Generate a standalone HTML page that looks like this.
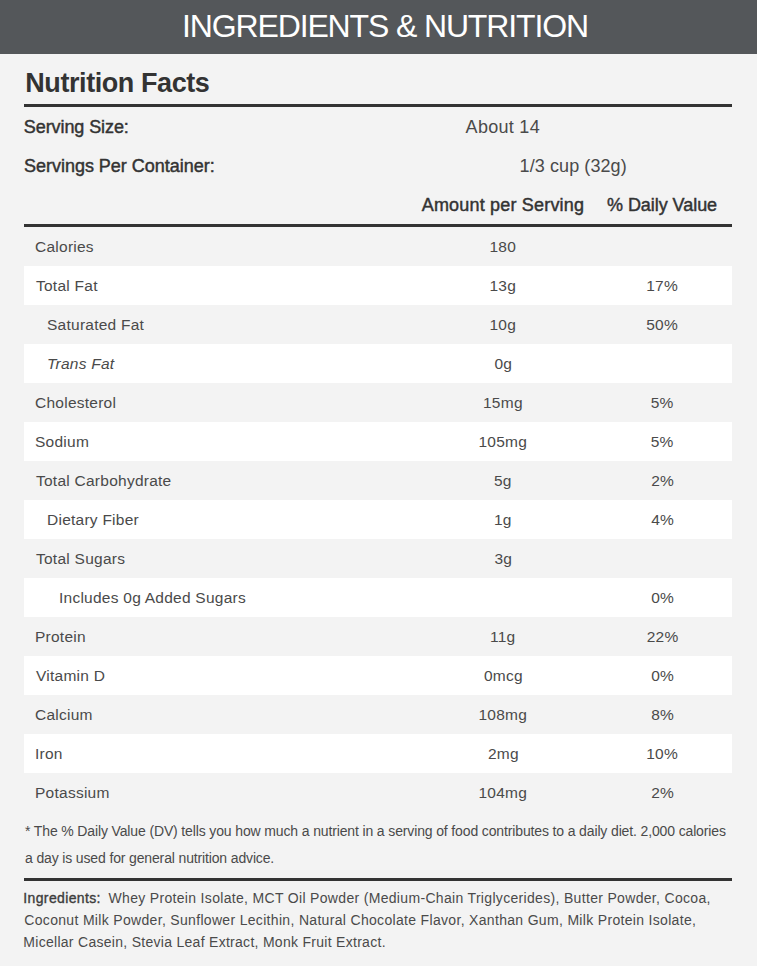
<!DOCTYPE html>
<html><head><meta charset="utf-8"><title>Ingredients &amp; Nutrition</title>
<style>
html,body{margin:0;padding:0}
body{width:757px;height:966px;overflow:hidden;position:relative;background:#f3f3f3;font-family:"Liberation Sans",sans-serif}
.hdr{position:absolute;left:0;top:0;width:757px;height:54px;background:#54575a}
.rule{position:absolute;left:24px;width:708px;height:3px;background:#333333}
.row{position:absolute;left:24px;width:708px;height:39px;background:#ffffff}
.t{position:absolute;white-space:nowrap}
</style></head><body>
<div class=hdr></div>
<div class=rule style="top:104px"></div>
<div class=rule style="top:224px"></div>
<div class=rule style="top:878px"></div>
<div class=row style='top:266px'></div><div class=row style='top:344px'></div><div class=row style='top:422px'></div><div class=row style='top:500px'></div><div class=row style='top:578px'></div><div class=row style='top:656px'></div><div class=row style='top:734px'></div>
<div class=t style='left:182.00px;top:6.00px;color:#ffffff;font-size:32px;font-weight:400;font-style:normal;letter-spacing:-1.136px;line-height:40px'>INGREDIENTS &amp; NUTRITION</div>
<div class=t style='left:25.30px;top:66.00px;color:#333333;font-size:27px;font-weight:700;font-style:normal;letter-spacing:-0.429px;line-height:34px'>Nutrition Facts</div>
<div class=t style='left:23.80px;top:116.30px;color:#333333;font-size:18px;font-weight:400;font-style:normal;letter-spacing:-0.083px;line-height:22px;-webkit-text-stroke:0.45px #333333'>Serving Size:</div>
<div class=t style='left:465.60px;top:116.20px;color:#4a4a4a;font-size:18px;font-weight:400;font-style:normal;letter-spacing:0.286px;line-height:22px'>About 14</div>
<div class=t style='left:24.00px;top:155.00px;color:#333333;font-size:18px;font-weight:400;font-style:normal;letter-spacing:-0.018px;line-height:22px;-webkit-text-stroke:0.45px #333333'>Servings Per Container:</div>
<div class=t style='left:519.60px;top:155.30px;color:#4a4a4a;font-size:18px;font-weight:400;font-style:normal;letter-spacing:0.083px;line-height:22px'>1/3 cup (32g)</div>
<div class=t style='left:421.70px;top:194.00px;color:#333333;font-size:18px;font-weight:400;font-style:normal;letter-spacing:0.188px;line-height:22px;-webkit-text-stroke:0.45px #333333'>Amount per Serving</div>
<div class=t style='left:607.00px;top:193.80px;color:#333333;font-size:18px;font-weight:400;font-style:normal;letter-spacing:-0.050px;line-height:22px;-webkit-text-stroke:0.45px #333333'>% Daily Value</div>
<div class=t style='left:35.00px;top:237.00px;color:#4a4a4a;font-size:15.5px;font-weight:400;font-style:normal;letter-spacing:0.250px;line-height:19px'>Calories</div>
<div class=t style='left:489.50px;top:237.00px;color:#4a4a4a;font-size:15.5px;font-weight:400;font-style:normal;letter-spacing:0.250px;line-height:19px'>180</div>
<div class=t style='left:36.00px;top:276.00px;color:#4a4a4a;font-size:15.5px;font-weight:400;font-style:normal;letter-spacing:0.250px;line-height:19px'>Total Fat</div>
<div class=t style='left:489.50px;top:276.00px;color:#4a4a4a;font-size:15.5px;font-weight:400;font-style:normal;letter-spacing:0.250px;line-height:19px'>13g</div>
<div class=t style='left:646.20px;top:276.00px;color:#4a4a4a;font-size:15.5px;font-weight:400;font-style:normal;letter-spacing:0.250px;line-height:19px'>17%</div>
<div class=t style='left:47.00px;top:315.00px;color:#4a4a4a;font-size:15.5px;font-weight:400;font-style:normal;letter-spacing:0.250px;line-height:19px'>Saturated Fat</div>
<div class=t style='left:489.50px;top:315.00px;color:#4a4a4a;font-size:15.5px;font-weight:400;font-style:normal;letter-spacing:0.250px;line-height:19px'>10g</div>
<div class=t style='left:646.20px;top:315.00px;color:#4a4a4a;font-size:15.5px;font-weight:400;font-style:normal;letter-spacing:0.250px;line-height:19px'>50%</div>
<div class=t style='left:47.00px;top:354.00px;color:#4a4a4a;font-size:15.5px;font-weight:400;font-style:italic;letter-spacing:0.250px;line-height:19px'>Trans Fat</div>
<div class=t style='left:494.50px;top:354.00px;color:#4a4a4a;font-size:15.5px;font-weight:400;font-style:normal;letter-spacing:0.250px;line-height:19px'>0g</div>
<div class=t style='left:35.00px;top:393.00px;color:#4a4a4a;font-size:15.5px;font-weight:400;font-style:normal;letter-spacing:0.250px;line-height:19px'>Cholesterol</div>
<div class=t style='left:483.00px;top:393.00px;color:#4a4a4a;font-size:15.5px;font-weight:400;font-style:normal;letter-spacing:0.250px;line-height:19px'>15mg</div>
<div class=t style='left:650.70px;top:393.00px;color:#4a4a4a;font-size:15.5px;font-weight:400;font-style:normal;letter-spacing:0.250px;line-height:19px'>5%</div>
<div class=t style='left:35.00px;top:432.00px;color:#4a4a4a;font-size:15.5px;font-weight:400;font-style:normal;letter-spacing:0.250px;line-height:19px'>Sodium</div>
<div class=t style='left:478.50px;top:432.00px;color:#4a4a4a;font-size:15.5px;font-weight:400;font-style:normal;letter-spacing:0.250px;line-height:19px'>105mg</div>
<div class=t style='left:650.70px;top:432.00px;color:#4a4a4a;font-size:15.5px;font-weight:400;font-style:normal;letter-spacing:0.250px;line-height:19px'>5%</div>
<div class=t style='left:36.00px;top:471.00px;color:#4a4a4a;font-size:15.5px;font-weight:400;font-style:normal;letter-spacing:0.250px;line-height:19px'>Total Carbohydrate</div>
<div class=t style='left:494.00px;top:471.00px;color:#4a4a4a;font-size:15.5px;font-weight:400;font-style:normal;letter-spacing:0.250px;line-height:19px'>5g</div>
<div class=t style='left:651.20px;top:471.00px;color:#4a4a4a;font-size:15.5px;font-weight:400;font-style:normal;letter-spacing:0.250px;line-height:19px'>2%</div>
<div class=t style='left:47.00px;top:510.00px;color:#4a4a4a;font-size:15.5px;font-weight:400;font-style:normal;letter-spacing:0.250px;line-height:19px'>Dietary Fiber</div>
<div class=t style='left:494.00px;top:510.00px;color:#4a4a4a;font-size:15.5px;font-weight:400;font-style:normal;letter-spacing:0.250px;line-height:19px'>1g</div>
<div class=t style='left:651.20px;top:510.00px;color:#4a4a4a;font-size:15.5px;font-weight:400;font-style:normal;letter-spacing:0.250px;line-height:19px'>4%</div>
<div class=t style='left:36.00px;top:549.00px;color:#4a4a4a;font-size:15.5px;font-weight:400;font-style:normal;letter-spacing:0.250px;line-height:19px'>Total Sugars</div>
<div class=t style='left:494.50px;top:549.00px;color:#4a4a4a;font-size:15.5px;font-weight:400;font-style:normal;letter-spacing:0.250px;line-height:19px'>3g</div>
<div class=t style='left:59.00px;top:588.00px;color:#4a4a4a;font-size:15.5px;font-weight:400;font-style:normal;letter-spacing:0.250px;line-height:19px'>Includes 0g Added Sugars</div>
<div class=t style='left:651.20px;top:588.00px;color:#4a4a4a;font-size:15.5px;font-weight:400;font-style:normal;letter-spacing:0.250px;line-height:19px'>0%</div>
<div class=t style='left:35.00px;top:627.00px;color:#4a4a4a;font-size:15.5px;font-weight:400;font-style:normal;letter-spacing:0.250px;line-height:19px'>Protein</div>
<div class=t style='left:490.00px;top:627.00px;color:#4a4a4a;font-size:15.5px;font-weight:400;font-style:normal;letter-spacing:0.250px;line-height:19px'>11g</div>
<div class=t style='left:646.70px;top:627.00px;color:#4a4a4a;font-size:15.5px;font-weight:400;font-style:normal;letter-spacing:0.250px;line-height:19px'>22%</div>
<div class=t style='left:36.00px;top:666.00px;color:#4a4a4a;font-size:15.5px;font-weight:400;font-style:normal;letter-spacing:0.250px;line-height:19px'>Vitamin D</div>
<div class=t style='left:484.00px;top:666.00px;color:#4a4a4a;font-size:15.5px;font-weight:400;font-style:normal;letter-spacing:0.250px;line-height:19px'>0mcg</div>
<div class=t style='left:651.20px;top:666.00px;color:#4a4a4a;font-size:15.5px;font-weight:400;font-style:normal;letter-spacing:0.250px;line-height:19px'>0%</div>
<div class=t style='left:35.00px;top:705.00px;color:#4a4a4a;font-size:15.5px;font-weight:400;font-style:normal;letter-spacing:0.250px;line-height:19px'>Calcium</div>
<div class=t style='left:478.50px;top:705.00px;color:#4a4a4a;font-size:15.5px;font-weight:400;font-style:normal;letter-spacing:0.250px;line-height:19px'>108mg</div>
<div class=t style='left:651.20px;top:705.00px;color:#4a4a4a;font-size:15.5px;font-weight:400;font-style:normal;letter-spacing:0.250px;line-height:19px'>8%</div>
<div class=t style='left:35.00px;top:744.00px;color:#4a4a4a;font-size:15.5px;font-weight:400;font-style:normal;letter-spacing:0.250px;line-height:19px'>Iron</div>
<div class=t style='left:488.00px;top:744.00px;color:#4a4a4a;font-size:15.5px;font-weight:400;font-style:normal;letter-spacing:0.250px;line-height:19px'>2mg</div>
<div class=t style='left:646.20px;top:744.00px;color:#4a4a4a;font-size:15.5px;font-weight:400;font-style:normal;letter-spacing:0.250px;line-height:19px'>10%</div>
<div class=t style='left:35.00px;top:783.00px;color:#4a4a4a;font-size:15.5px;font-weight:400;font-style:normal;letter-spacing:0.250px;line-height:19px'>Potassium</div>
<div class=t style='left:478.50px;top:783.00px;color:#4a4a4a;font-size:15.5px;font-weight:400;font-style:normal;letter-spacing:0.250px;line-height:19px'>104mg</div>
<div class=t style='left:651.20px;top:783.00px;color:#4a4a4a;font-size:15.5px;font-weight:400;font-style:normal;letter-spacing:0.250px;line-height:19px'>2%</div>
<div class=t style='left:25.00px;top:821.80px;color:#4a4a4a;font-size:14px;font-weight:400;font-style:normal;letter-spacing:-0.136px;line-height:18px'>* The % Daily Value (DV) tells you how much a nutrient in a serving of food contributes to a daily diet. 2,000 calories</div>
<div class=t style='left:25.00px;top:848.80px;color:#4a4a4a;font-size:14px;font-weight:400;font-style:normal;letter-spacing:-0.143px;line-height:18px'>a day is used for general nutrition advice.</div>
<div class=t style='left:23.30px;top:888.80px;color:#3c3c3c;font-size:14px;font-weight:400;font-style:normal;letter-spacing:0.364px;line-height:18px;-webkit-text-stroke:0.35px #3c3c3c'>Ingredients:</div>
<div class=t style='left:108.50px;top:888.80px;color:#4a4a4a;font-size:14px;font-weight:400;font-style:normal;letter-spacing:0.322px;line-height:18px'>Whey Protein Isolate, MCT Oil Powder (Medium-Chain Triglycerides), Butter Powder, Cocoa,</div>
<div class=t style='left:24.30px;top:910.80px;color:#4a4a4a;font-size:14px;font-weight:400;font-style:normal;letter-spacing:0.320px;line-height:18px'>Coconut Milk Powder, Sunflower Lecithin, Natural Chocolate Flavor, Xanthan Gum, Milk Protein Isolate,</div>
<div class=t style='left:23.30px;top:932.80px;color:#4a4a4a;font-size:14px;font-weight:400;font-style:normal;letter-spacing:0.286px;line-height:18px'>Micellar Casein, Stevia Leaf Extract, Monk Fruit Extract.</div>
</body></html>
